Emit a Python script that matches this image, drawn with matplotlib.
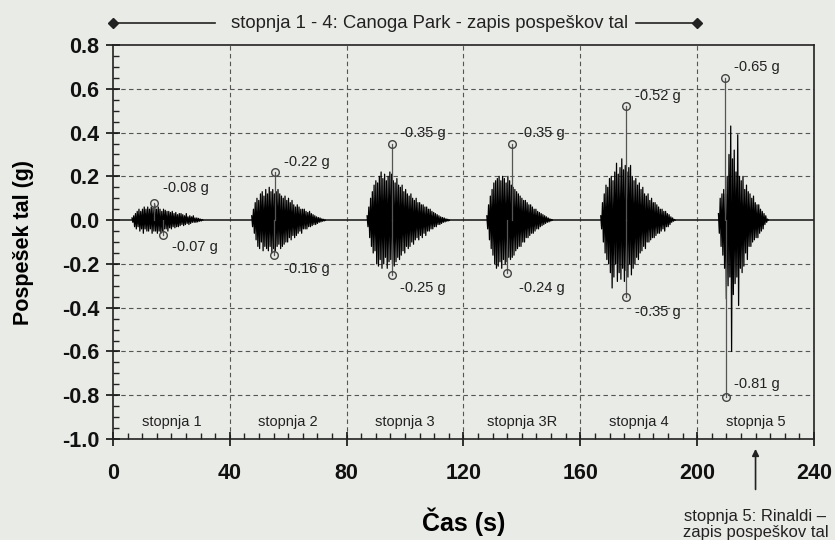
import numpy as np
import matplotlib
matplotlib.use("Agg")
import matplotlib.pyplot as plt
from matplotlib.ticker import MultipleLocator
import matplotlib.transforms as mtransforms

# ---------------- data ----------------
dt = 0.3  # sample spacing (s) of the digitised spikes

stage_names = ["stopnja 1", "stopnja 2", "stopnja 3", "stopnja 3R", "stopnja 4", "stopnja 5"]
stage_centers = [20, 60, 100, 140, 180, 220]
stage_starts = [6.5, 47.5, 87.0, 128.0, 167.0, 207.3]

s1 = [0.01,-0.01,0.02,-0.03,0.03,-0.04,0.04,-0.03,0.05,-0.05,0.04,-0.04,0.05,-0.06,0.06,-0.04,0.05,-0.05,
      0.06,-0.05,0.05,-0.04,0.06,-0.06,0.055,-0.05,0.07,-0.05,0.05,-0.06,0.06,-0.05,0.05,-0.06,0.04,-0.05,
      0.05,-0.04,0.045,-0.04,0.04,-0.05,0.04,-0.035,0.035,-0.04,0.04,-0.03,0.03,-0.035,0.035,-0.03,0.025,
      -0.03,0.03,-0.025,0.03,-0.02,0.025,-0.025,0.02,-0.02,0.03,-0.015,0.015,-0.02,0.02,-0.015,0.015,-0.01,
      0.02,-0.01,0.01,-0.01,0.01,-0.008,0.008,-0.005,0.005,-0.004,0.003,0]
s2 = [0.02,-0.03,0.05,-0.06,0.08,-0.09,0.10,-0.12,0.09,-0.13,0.12,-0.10,0.13,-0.14,0.11,-0.12,0.14,-0.13,
      0.12,-0.14,0.15,-0.12,0.13,-0.15,0.14,-0.13,0.12,-0.14,0.13,-0.12,0.14,-0.11,0.12,-0.13,0.11,-0.12,
      0.10,-0.11,0.11,-0.10,0.09,-0.10,0.10,-0.08,0.08,-0.09,0.09,-0.07,0.07,-0.08,0.06,-0.07,0.07,-0.06,
      0.06,-0.05,0.05,-0.06,0.05,-0.04,0.05,-0.04,0.04,-0.04,0.035,-0.03,0.04,-0.03,0.03,-0.025,0.025,-0.02,
      0.02,-0.02,0.015,-0.015,0.012,-0.01,0.01,-0.008,0.006,-0.005,0.004,-0.003,0]
s3 = [0.02,-0.03,0.06,-0.08,0.10,-0.12,0.13,-0.15,0.16,-0.14,0.18,-0.20,0.17,-0.21,0.20,-0.18,0.22,-0.22,
      0.19,-0.20,0.21,-0.17,0.18,-0.22,0.20,-0.19,0.22,-0.18,0.21,-0.20,0.18,-0.21,0.17,-0.19,0.19,-0.17,
      0.16,-0.18,0.15,-0.16,0.16,-0.14,0.13,-0.15,0.14,-0.12,0.12,-0.13,0.11,-0.12,0.12,-0.10,0.10,-0.11,
      0.09,-0.09,0.10,-0.08,0.08,-0.09,0.08,-0.07,0.07,-0.08,0.07,-0.06,0.06,-0.07,0.06,-0.05,0.05,-0.05,
      0.05,-0.04,0.04,-0.04,0.035,-0.03,0.03,-0.03,0.025,-0.02,0.02,-0.02,0.015,-0.015,0.012,-0.01,0.01,
      -0.008,0.006,-0.005,0.004,-0.003,0]
s3r = [0.02,-0.04,0.07,-0.09,0.11,-0.13,0.14,-0.16,0.17,-0.20,0.18,-0.22,0.19,-0.21,0.20,-0.19,0.18,-0.22,
       0.20,-0.18,0.19,-0.20,0.17,-0.19,0.20,-0.17,0.18,-0.18,0.16,-0.17,0.15,-0.16,0.14,-0.14,0.13,-0.13,
       0.12,-0.12,0.11,-0.12,0.10,-0.10,0.09,-0.10,0.09,-0.08,0.08,-0.08,0.07,-0.07,0.07,-0.06,0.06,-0.06,
       0.05,-0.05,0.05,-0.04,0.04,-0.04,0.035,-0.03,0.03,-0.025,0.025,-0.02,0.02,-0.015,0.015,-0.01,0.01,
       -0.008,0.006,-0.004,0.003,0]
s4 = [0.02,-0.04,0.08,-0.10,0.12,-0.15,0.16,-0.18,0.15,-0.20,0.19,-0.24,0.20,-0.31,0.18,-0.26,0.22,-0.20,
      0.26,-0.28,0.21,-0.24,0.24,-0.27,0.28,-0.22,0.23,-0.28,0.25,-0.23,0.22,-0.26,0.24,-0.20,0.25,-0.25,
      0.20,-0.22,0.18,-0.20,0.19,-0.17,0.16,-0.18,0.17,-0.15,0.14,-0.14,0.15,-0.12,0.12,-0.13,0.11,-0.10,
      0.12,-0.10,0.09,-0.09,0.10,-0.08,0.08,-0.08,0.08,-0.07,0.07,-0.06,0.06,-0.06,0.05,-0.05,0.05,-0.04,
      0.04,-0.05,0.04,-0.03,0.03,-0.03,0.025,-0.02,0.015,-0.01,0.01,-0.005,0.003,0]
s5 = [0.03,-0.06,0.10,-0.12,0.12,-0.16,0.14,-0.22,0.12,-0.36,0.20,-0.30,0.30,-0.26,0.43,-0.60,0.28,-0.34,
      0.32,-0.29,0.22,-0.26,0.39,-0.39,0.20,-0.22,0.18,-0.24,0.20,-0.21,0.14,-0.15,0.16,-0.18,0.13,-0.12,
      0.12,-0.12,0.10,-0.10,0.11,-0.09,0.08,-0.08,0.07,-0.08,0.07,-0.06,0.05,-0.05,0.04,-0.04,0.03,-0.02,
      0.02,-0.01,0.005,0]
signals = [s1, s2, s3, s3r, s4, s5]

# peak values per stage (max / min) and their times
peak_max_t = [14.0, 55.5, 95.5, 136.5, 175.7, 209.5]
peak_max = [0.08, 0.22, 0.35, 0.35, 0.52, 0.65]
peak_min_t = [17.0, 55.0, 95.5, 135.0, 175.7, 210.0]
peak_min = [-0.07, -0.16, -0.25, -0.24, -0.35, -0.81]
label_max = ["-0.08 g", "-0.22 g", "-0.35 g", "-0.35 g", "-0.52 g", "-0.65 g"]
label_min = ["-0.07 g", "-0.16 g", "-0.25 g", "-0.24 g", "-0.35 g", "-0.81 g"]
# label placement (t, g)
label_max_pos = [(25, 0.148), (66.5, 0.267), (106, 0.40), (147, 0.40), (186.5, 0.565), (220.5, 0.70)]
label_min_pos = [(28, -0.125), (66.5, -0.225), (106, -0.31), (147, -0.31), (186.5, -0.42), (220.5, -0.75)]

x_ticks = [0, 40, 80, 120, 160, 200, 240]
y_ticks = [0.8, 0.6, 0.4, 0.2, 0.0, -0.2, -0.4, -0.6, -0.8, -1.0]
span_canoga = (0, 200)
header_text = "stopnja 1 - 4: Canoga Park - zapis pospeškov tal"
rinaldi_t = 220
rinaldi_text = "stopnja 5: Rinaldi –\nzapis pospeškov tal"

# ---------------- figure ----------------
bg = "#e9ebe6"
plt.rcParams["font.family"] = ["Liberation Sans", "DejaVu Sans"]
fig = plt.figure(figsize=(8.35, 5.4), dpi=100, facecolor=bg)
ax = fig.add_axes([0.1353, 0.1870, 0.8395, 0.7296], facecolor=bg)

ax.set_xlim(0, 240)
ax.set_ylim(-1.0, 0.8)

# grid
for xv in [40, 80, 120, 160, 200]:
    ax.axvline(xv, color="#555555", lw=0.8, ls=(0, (4, 3)), zorder=1)
for yv in [0.6, 0.4, 0.2, -0.2, -0.4, -0.6, -0.8]:
    ax.axhline(yv, color="#555555", lw=0.8, ls=(0, (4, 3)), zorder=1)

# zero baseline
ax.axhline(0.0, color="#222222", lw=1.2, zorder=2)

# signals
for start, sig in zip(stage_starts, signals):
    t = start + dt * np.arange(len(sig))
    ax.plot(t, sig, color="black", lw=0.9, zorder=3)

# peak stems and circles
for tm, vm, tn, vn in zip(peak_max_t, peak_max, peak_min_t, peak_min):
    ax.plot([tm, tm], [0, vm], color="#555555", lw=0.9, zorder=4)
    ax.plot([tn, tn], [0, vn], color="#555555", lw=0.9, zorder=4)
    ax.plot([tm, tn], [vm, vn], ls="none", marker="o", ms=5.5, mfc="none",
            mec="#444444", mew=1.0, zorder=5)

for txt, (x, y) in zip(label_max, label_max_pos):
    ax.text(x, y, txt, ha="center", va="center", fontsize=10.5, color="#222222", zorder=6)
for txt, (x, y) in zip(label_min, label_min_pos):
    ax.text(x, y, txt, ha="center", va="center", fontsize=10.5, color="#222222", zorder=6)

# stage labels
for name, c in zip(stage_names, stage_centers):
    ax.text(c, -0.92, name, ha="center", va="center", fontsize=10.5, color="#222222")

# ticks
ax.set_xticks(x_ticks)
ax.set_yticks(y_ticks)
ax.set_yticklabels([f"{v:.1f}" for v in y_ticks])
ax.xaxis.set_minor_locator(MultipleLocator(5))
ax.yaxis.set_minor_locator(MultipleLocator(0.05))
ax.tick_params(axis="both", which="major", direction="inout", length=10, width=1.2,
               labelsize=15.5, colors="#111111")
ax.tick_params(axis="both", which="minor", direction="in", length=4, width=1.0, colors="#222222")
ax.tick_params(axis="x", which="major", pad=12)
ax.tick_params(axis="y", which="major", pad=5)
for lab in ax.get_xticklabels() + ax.get_yticklabels():
    lab.set_fontweight("bold")

for sp in ax.spines.values():
    sp.set_color("#222222")
    sp.set_linewidth(1.2)

ax.set_xlabel("Čas (s)", fontsize=18, fontweight="bold", labelpad=17)
ax.set_ylabel("Pospešek tal (g)", fontsize=15.5, fontweight="bold", labelpad=20)

# header span (Canoga Park, stages 1-4)
trans = mtransforms.blended_transform_factory(ax.transData, ax.transAxes)
yh = 1.055
ax.plot([span_canoga[0], 35], [yh, yh], color="#222222", lw=1.2, transform=trans, clip_on=False)
ax.plot([179, span_canoga[1]], [yh, yh], color="#222222", lw=1.2, transform=trans, clip_on=False)
ax.plot(list(span_canoga), [yh, yh], ls="none", marker="D", ms=5, color="#222222",
        transform=trans, clip_on=False)
ax.text(108.5, yh, header_text, ha="center", va="center", fontsize=13.3, color="#222222",
        transform=trans)

# Rinaldi arrow
ax.annotate("", xy=(rinaldi_t, -0.018), xytext=(rinaldi_t, -0.135),
            xycoords=trans, textcoords=trans,
            arrowprops=dict(arrowstyle="-|>", color="#222222", lw=1.2, mutation_scale=10))
ax.text(rinaldi_t, -0.178, rinaldi_text, ha="center", va="top", fontsize=12,
        color="#222222", transform=trans, linespacing=1.05)

fig.savefig("out.png", dpi=100, facecolor=bg)
